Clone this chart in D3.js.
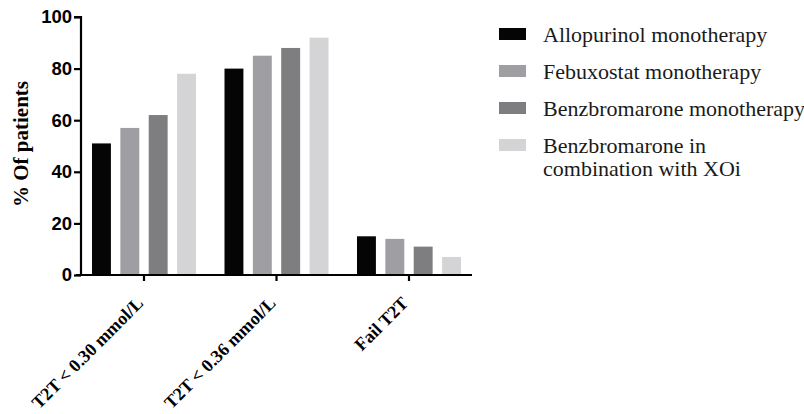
<!DOCTYPE html>
<html>
<head>
<meta charset="utf-8">
<script src="https://cdn.jsdelivr.net/npm/d3@7"></script>
<style>
  body { margin: 0; background: #fff; }
</style>
</head>
<body>
<div id="chart"></div>
<script>
const WIDTH = 804, HEIGHT = 414;

const categories = ["T2T < 0.30 mmol/L", "T2T < 0.36 mmol/L", "Fail T2T"];
const seriesNames = [
    "Allopurinol monotherapy",
    "Febuxostat monotherapy",
    "Benzbromarone monotherapy",
    "Benzbromarone in combination with XOi"
];
const allopurinol = [51, 80, 15];
const febuxostat = [57, 85, 14];
const benzbromarone = [62, 88, 11];
const combination = [78, 92, 7];
const yTicks = [0, 20, 40, 60, 80, 100];

const COLORS = ["#050505", "#9e9ea3", "#7e7e80", "#d4d4d6"];
const SERIF = "'Liberation Serif', 'Times New Roman', serif";
const seriesValues = [allopurinol, febuxostat, benzbromarone, combination];

const svg = d3.select("#chart")
    .append("svg")
    .attr("width", WIDTH)
    .attr("height", HEIGHT);

// Scales
const x0 = d3.scaleBand()
    .domain(categories)
    .range([81, 472])
    .paddingInner(0.215)
    .paddingOuter(0.083);

const x1 = d3.scaleBand()
    .domain(d3.range(seriesNames.length))
    .range([0, x0.bandwidth()])
    .paddingInner(0.333)
    .paddingOuter(0);

const y = d3.scaleLinear()
    .domain([0, 100])
    .range([275, 17]);

// Bars
const groups = svg.selectAll(".group")
    .data(categories)
    .join("g")
    .attr("class", "group")
    .attr("transform", d => `translate(${x0(d)},0)`);

groups.selectAll("rect")
    .data((d, i) => seriesValues.map((s, j) => ({ s: j, v: s[i] })))
    .join("rect")
    .attr("x", d => x1(d.s))
    .attr("y", d => y(d.v))
    .attr("width", x1.bandwidth())
    .attr("height", d => y(0) - y(d.v))
    .attr("fill", d => COLORS[d.s]);

// Y axis
const yAxis = svg.append("g")
    .attr("transform", "translate(81,0)")
    .call(d3.axisLeft(y).tickValues(yTicks).tickSize(7).tickPadding(2));
yAxis.select(".domain").attr("stroke-width", 2.2).attr("d", "M-7,17H0V276");
yAxis.selectAll(".tick line").attr("stroke-width", 2.2);
yAxis.selectAll(".tick text")
    .attr("font-family", "'Liberation Sans', Arial, sans-serif")
    .attr("font-weight", "bold")
    .attr("font-size", "18.5px")
    .attr("fill", "#000");

// X axis
const xAxis = svg.append("g")
    .attr("transform", "translate(0,275)")
    .call(d3.axisBottom(x0).tickSize(6).tickSizeOuter(0));
xAxis.select(".domain").attr("stroke-width", 2.2).attr("d", "M76,0H472");
xAxis.selectAll(".tick line").attr("stroke-width", 2.2);
xAxis.selectAll(".tick text")
    .attr("font-family", SERIF)
    .attr("font-weight", "bold")
    .attr("font-size", "18px")
    .attr("fill", "#000")
    .attr("text-anchor", "end")
    .attr("dy", "0")
    .attr("transform", "translate(-6,23) rotate(-45)");

// Y label
svg.append("text")
    .attr("transform", "translate(28,144) rotate(-90)")
    .attr("text-anchor", "middle")
    .attr("font-family", SERIF)
    .attr("font-weight", "bold")
    .attr("font-size", "21px")
    .text("% Of patients");

// Legend
const legend = svg.append("g")
    .attr("transform", "translate(499,28)");

const rowY = [0, 37, 74, 111];
seriesNames.forEach((name, i) => {
    const row = legend.append("g").attr("transform", `translate(0,${rowY[i]})`);
    row.append("rect")
        .attr("width", 27).attr("height", 12)
        .attr("fill", COLORS[i]);
    const t = row.append("text")
        .attr("x", 44)
        .attr("y", 14)
        .attr("font-family", SERIF)
        .attr("font-size", "22px")
        .attr("fill", "#1a1a1a");
    const lines = i === 3 ? ["Benzbromarone in", "combination with XOi"] : [name];
    lines.forEach((l, k) => {
        t.append("tspan").attr("x", 44).attr("dy", k === 0 ? 0 : 23).text(l);
    });
});
</script>
</body>
</html>
